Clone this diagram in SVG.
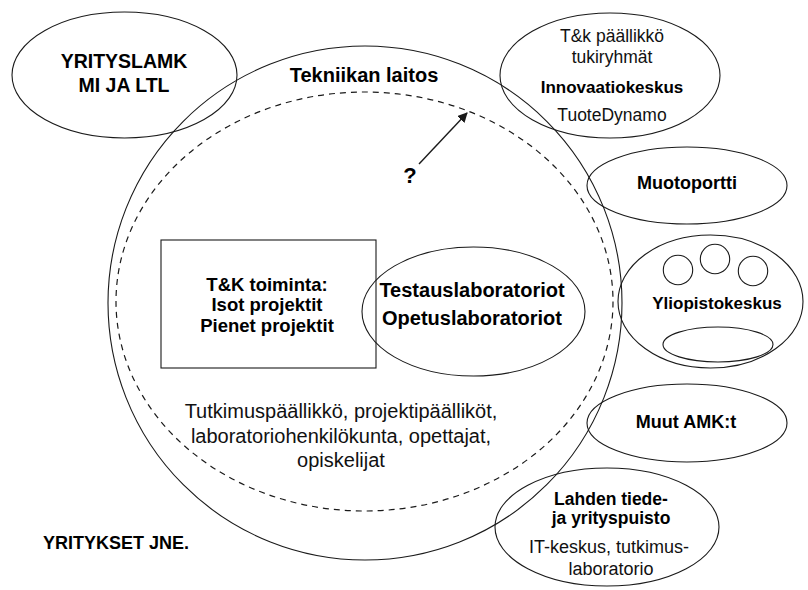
<svg xmlns="http://www.w3.org/2000/svg" width="808" height="590" viewBox="0 0 808 590">
  <defs>
    <style>
      .shape { fill: none; stroke: #1a1a1a; stroke-width: 1.1; }
      .dash { fill: none; stroke: #1a1a1a; stroke-width: 1.2; stroke-dasharray: 6 5; }
      .b { font-family: "Liberation Sans", Arial, sans-serif; font-weight: bold; fill: #000; text-anchor: middle; }
      .r { font-family: "Liberation Sans", Arial, sans-serif; fill: #111; text-anchor: middle; }
    </style>
    <marker id="head" viewBox="0 0 10 10" refX="9" refY="5" markerWidth="10" markerHeight="10" markerUnits="userSpaceOnUse" orient="auto">
      <path d="M0,0 L10,5 L0,10 Z" fill="#1a1a1a"/>
    </marker>
  </defs>
  <rect width="808" height="590" fill="#fff"/>

  <!-- Department circle and the dashed inner boundary -->
  <g id="tekniikan-laitos">
    <circle class="shape" cx="365" cy="303" r="257"/>
    <ellipse class="dash" cx="364.5" cy="301.5" rx="248.5" ry="209.5"/>
    <text class="b" x="364" y="82" font-size="20">Tekniikan laitos</text>
  </g>

  <g id="yrityslamkmi">
    <ellipse class="shape" cx="124.5" cy="75" rx="112.5" ry="63"/>
    <text class="b" x="124" y="68" font-size="19.5">YRITYSLAMK</text>
    <text class="b" x="124" y="92" font-size="19.5">MI JA LTL</text>
  </g>

  <g id="innovaatiokeskus">
    <ellipse class="shape" cx="610" cy="75.5" rx="110" ry="62.5"/>
    <text class="r" x="612" y="42" font-size="17.5">T&amp;k päällikkö</text>
    <text class="r" x="612" y="63" font-size="17.5">tukiryhmät</text>
    <text class="b" x="612" y="93" font-size="17">Innovaatiokeskus</text>
    <text class="r" x="612" y="121" font-size="17.5">TuoteDynamo</text>
  </g>

  <g id="muotoportti">
    <ellipse class="shape" cx="687" cy="185.5" rx="100" ry="38.5"/>
    <text class="b" x="687" y="189" font-size="18">Muotoportti</text>
  </g>

  <g id="yliopistokeskus">
    <ellipse class="shape" cx="710.5" cy="301.5" rx="92.5" ry="66.5"/>
    <circle class="shape" cx="678" cy="270" r="14.7"/>
    <circle class="shape" cx="715" cy="259" r="14.7"/>
    <circle class="shape" cx="753" cy="271" r="14.7"/>
    <ellipse class="shape" cx="718" cy="344.5" rx="55" ry="17.5"/>
    <text class="b" x="717" y="309" font-size="17">Yliopistokeskus</text>
  </g>

  <g id="muut-amk">
    <ellipse class="shape" cx="687" cy="423" rx="100" ry="39"/>
    <text class="b" x="686" y="428" font-size="18">Muut AMK:t</text>
  </g>

  <g id="lahden-tiedepuisto">
    <ellipse class="shape" cx="607" cy="527" rx="112" ry="59"/>
    <text class="b" x="611" y="505" font-size="17.5">Lahden tiede-</text>
    <text class="b" x="611" y="524" font-size="17.5">ja yrityspuisto</text>
    <text class="r" x="609" y="553" font-size="18">IT-keskus, tutkimus-</text>
    <text class="r" x="611" y="575" font-size="18">laboratorio</text>
  </g>

  <g id="tk-toiminta">
    <rect class="shape" x="161" y="240" width="215" height="128" stroke="#444"/>
    <text class="b" x="267" y="290.5" font-size="18.5">T&amp;K toiminta:</text>
    <text class="b" x="267" y="311" font-size="18.5">Isot projektit</text>
    <text class="b" x="267" y="331.5" font-size="18.5">Pienet projektit</text>
  </g>

  <g id="laboratoriot">
    <ellipse class="shape" cx="473.5" cy="311.5" rx="111.5" ry="64.5"/>
    <text class="b" x="472" y="297" font-size="20">Testauslaboratoriot</text>
    <text class="b" x="472" y="325" font-size="20">Opetuslaboratoriot</text>
  </g>

  <g id="henkilosto">
    <text class="r" x="341" y="418" font-size="20">Tutkimuspäällikkö, projektipäälliköt,</text>
    <text class="r" x="341" y="443" font-size="20">laboratoriohenkilökunta, opettajat,</text>
    <text class="r" x="341" y="467" font-size="20">opiskelijat</text>
  </g>

  <g id="yritykset">
    <text class="b" x="43" y="549" font-size="18" style="text-anchor:start">YRITYKSET JNE.</text>
  </g>

  <g id="kysymys">
    <text class="b" x="410" y="183" font-size="22">?</text>
  </g>

  <!-- Connectors -->
  <g id="connectors">
    <line x1="419" y1="164" x2="467" y2="113" stroke="#1a1a1a" stroke-width="1.4" marker-end="url(#head)"/>
  </g>
</svg>
